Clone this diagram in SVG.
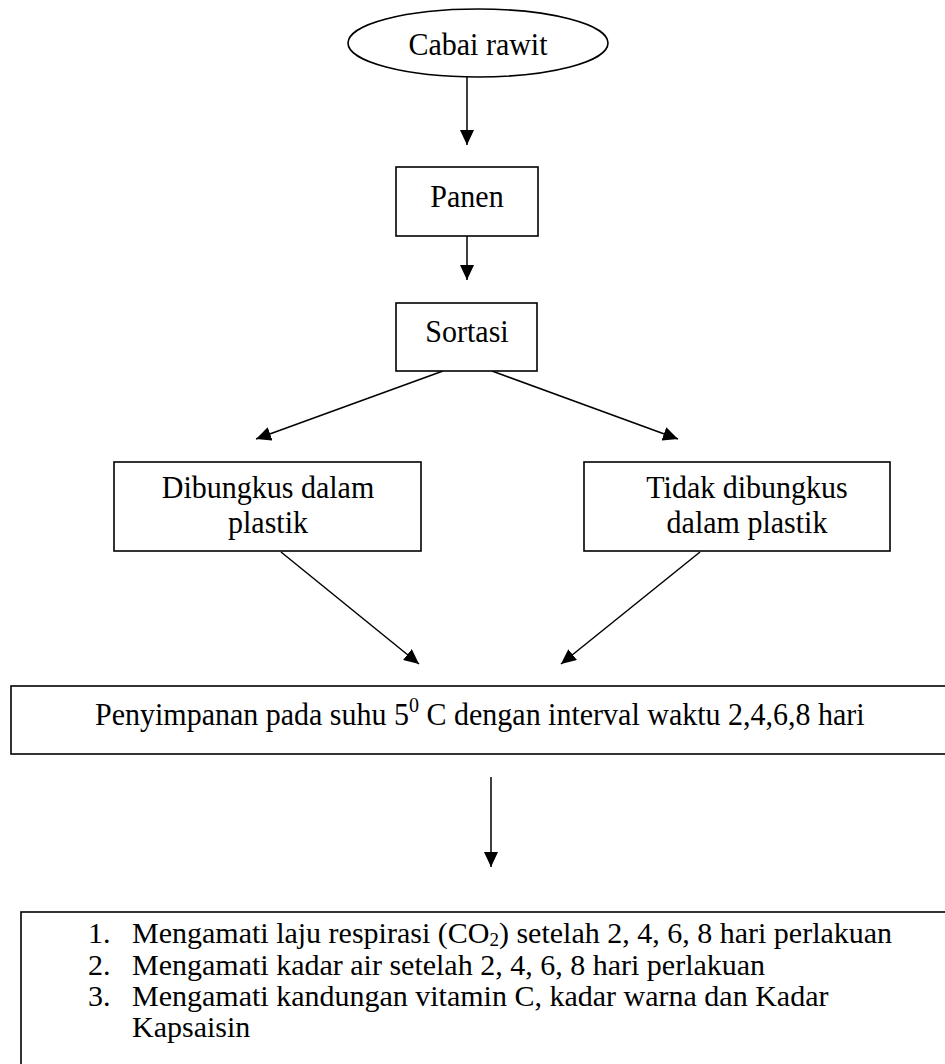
<svg xmlns="http://www.w3.org/2000/svg" width="945" height="1064" viewBox="0 0 945 1064">
<style>
.shape{fill:#fff;stroke:#000;stroke-width:1.6}
.conn{stroke:#000;stroke-width:1.5;fill:none;marker-end:url(#ah)}
text{font-family:"Liberation Serif","Times New Roman",serif;font-size:30px;fill:#000}
.c{text-anchor:middle}
</style>
<defs>
<marker id="ah" markerUnits="userSpaceOnUse" markerWidth="16" markerHeight="14" refX="15" refY="7" orient="auto">
<path d="M0,0 L15,7 L0,14 Z" fill="#000"/>
</marker>
</defs>
<rect width="945" height="1064" fill="#fff"/>
<g id="connectors">
<line class="conn" x1="467" y1="77" x2="467" y2="145"/>
<line class="conn" x1="467" y1="236" x2="467" y2="280"/>
<line class="conn" x1="443" y1="371" x2="256" y2="439"/>
<line class="conn" x1="492" y1="371" x2="678" y2="439"/>
<line class="conn" x1="281" y1="552" x2="419" y2="664"/>
<line class="conn" x1="700" y1="552" x2="561" y2="664"/>
<line class="conn" x1="491" y1="777" x2="491" y2="867"/>
</g>
<g id="cabai">
<ellipse class="shape" cx="478" cy="43" rx="130" ry="34"/>
<text class="c" transform="translate(478,55) scale(1,1.08)">Cabai rawit</text>
</g>
<g id="panen">
<rect class="shape" x="396" y="167" width="142" height="69"/>
<text class="c" transform="translate(467,207) scale(1,1.08)">Panen</text>
</g>
<g id="sortasi">
<rect class="shape" x="396" y="303" width="141" height="68"/>
<text class="c" transform="translate(467,342) scale(1,1.08)">Sortasi</text>
</g>
<g id="dibungkus">
<rect class="shape" x="114" y="462" width="307" height="89"/>
<text class="c" transform="translate(268,498) scale(1,1.08)">Dibungkus dalam</text>
<text class="c" transform="translate(268,533) scale(1,1.08)">plastik</text>
</g>
<g id="tidak">
<rect class="shape" x="584" y="462" width="306" height="89"/>
<text class="c" transform="translate(747,498) scale(1,1.08)">Tidak dibungkus</text>
<text class="c" transform="translate(747,533) scale(1,1.08)">dalam plastik</text>
</g>
<g id="penyimpanan">
<rect class="shape" x="11" y="686" width="960" height="68"/>
<text transform="translate(95,725) scale(1,1.05)">Penyimpanan pada suhu 5<tspan font-size="20" dy="-12">0</tspan><tspan dy="12"> C dengan interval waktu 2,4,6,8 hari</tspan></text>
</g>
<g id="pengamatan">
<rect class="shape" x="21" y="912" width="960" height="200"/>
<text x="88" y="943">1.</text>
<text x="132" y="943">Mengamati laju respirasi (CO<tspan font-size="19" dy="3">2</tspan><tspan dy="-3">) setelah 2, 4, 6, 8 hari perlakuan</tspan></text>
<text x="88" y="975">2.</text>
<text x="132" y="975">Mengamati kadar air setelah 2, 4, 6, 8 hari perlakuan</text>
<text x="88" y="1006">3.</text>
<text x="132" y="1006">Mengamati kandungan vitamin C, kadar warna dan Kadar</text>
<text x="132" y="1037">Kapsaisin</text>
</g>
</svg>
